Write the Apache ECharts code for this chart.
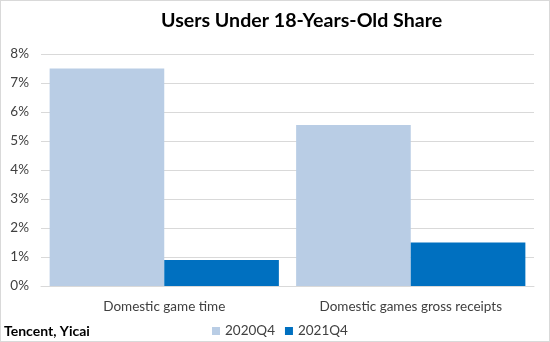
<!DOCTYPE html>
<html><head><meta charset="utf-8">
<script src="https://cdn.jsdelivr.net/npm/echarts@6/dist/echarts.min.js"></script>
<style>
html,body{margin:0;padding:0;background:#fff;}
#c{width:548px;height:340px;border:1px solid #d9d9d9;}
</style></head>
<body><div id="c"></div>
<script>
const categories = ["Domestic game time", "Domestic games gross receipts"];
const seriesNames = ["2020Q4", "2021Q4"];
const values2020Q4 = [7.5, 5.55];
const values2021Q4 = [0.9, 1.5];
const yTicks = [0, 1, 2, 3, 4, 5, 6, 7, 8];

const font = "Lato, 'Open Sans', sans-serif";
const chart = echarts.init(document.getElementById('c'));
chart.setOption({
  animation: false,
  title: {
    text: "Users Under 18-Years-Old Share",
    left: 155, top: 5,
    textStyle: {fontFamily: font, fontSize: 19.6, fontWeight: 'bold', color: '#000'}
  },
  graphic: [{
    type: 'text', left: 3, top: 323,
    style: {text: 'Tencent, Yicai', fontFamily: font, fontSize: 14, fontWeight: 'bold', fill: '#000'}
  }],
  legend: {
    data: seriesNames, left: 206, top: 318,
    itemWidth: 8, itemHeight: 8, itemGap: 10, icon: 'rect',
    textStyle: {fontFamily: font, fontSize: 13.5, color: '#404040'}
  },
  grid: {left: 40, right: 15, top: 53, bottom: 55},
  xAxis: {
    type: 'category', data: categories,
    axisLine: {lineStyle: {color: '#d9d9d9', width: 1}},
    axisTick: {show: false},
    axisLabel: {fontFamily: font, fontSize: 13.5, color: '#404040', margin: 14}
  },
  yAxis: {
    type: 'value', min: yTicks[0], max: yTicks[yTicks.length - 1], interval: 1,
    axisLine: {show: false}, axisTick: {show: false},
    splitLine: {lineStyle: {color: '#d9d9d9', width: 1}},
    axisLabel: {fontFamily: font, fontSize: 13.5, color: '#404040', margin: 12, formatter: v => v + '%'}
  },
  series: [
    {name: seriesNames[0], type: 'bar', data: values2020Q4, barGap: '0%', barCategoryGap: '7%',
     itemStyle: {color: '#B9CDE5'}},
    {name: seriesNames[1], type: 'bar', data: values2021Q4, barGap: '0%', barCategoryGap: '7%',
     itemStyle: {color: '#0070C0'}}
  ]
});
</script></body></html>
